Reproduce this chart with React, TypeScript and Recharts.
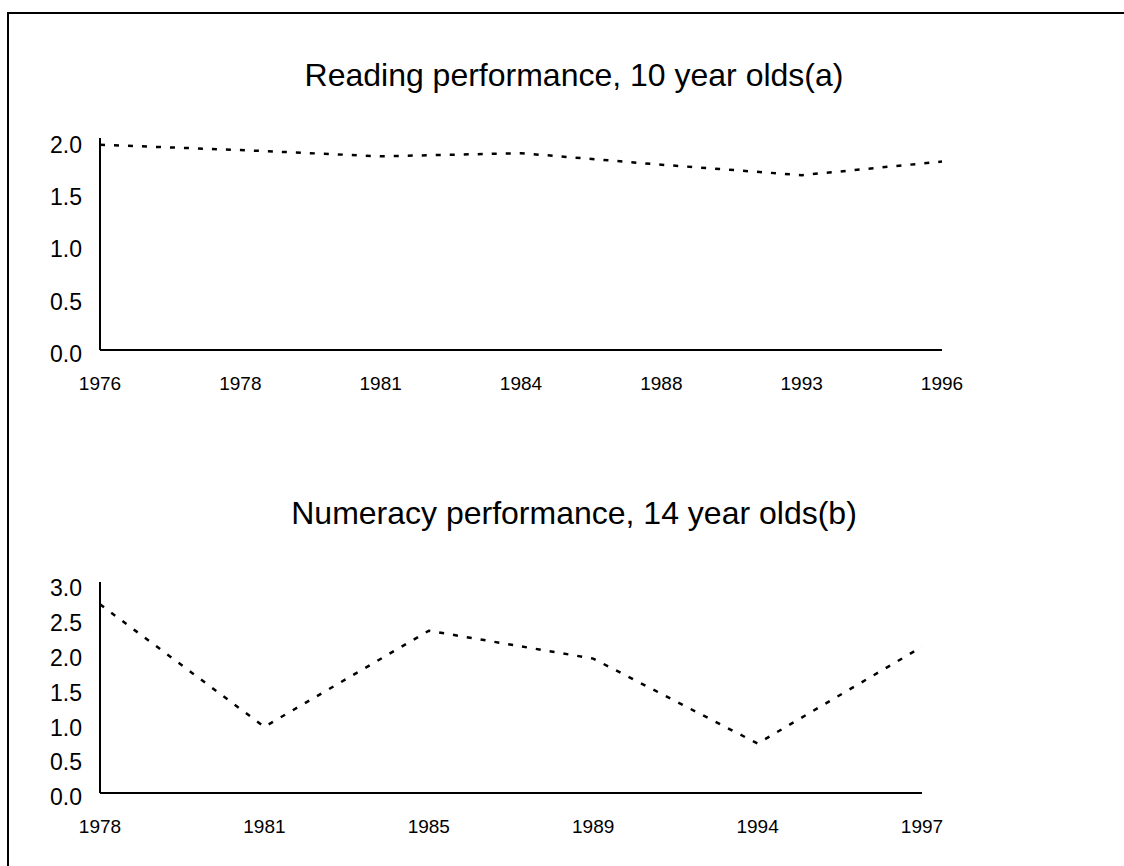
import { LineChart, Line, XAxis, YAxis } from "recharts";

const readingYears = ["1976", "1978", "1981", "1984", "1988", "1993", "1996"];
const readingValues = [1.96, 1.91, 1.85, 1.88, 1.77, 1.67, 1.8];
const readingTicks = [0, 0.5, 1, 1.5, 2];

const numeracyYears = ["1978", "1981", "1985", "1989", "1994", "1997"];
const numeracyValues = [2.71, 0.95, 2.33, 1.93, 0.71, 2.1];
const numeracyTicks = [0, 0.5, 1, 1.5, 2, 2.5, 3];

const font = '"Liberation Sans", Arial, sans-serif';

const readingData = readingYears.map((year, i) => ({ year, value: readingValues[i] }));
const numeracyData = numeracyYears.map((year, i) => ({ year, value: numeracyValues[i] }));

const titleStyle = {
  position: "absolute" as const,
  left: 0,
  width: 1148,
  textAlign: "center" as const,
  fontFamily: font,
  fontSize: 32,
  lineHeight: "32px",
  color: "#000",
  whiteSpace: "nowrap" as const,
};

function Panel({
  data,
  ticks,
  max,
  top,
  height,
  margin,
}: {
  data: { year: string; value: number }[];
  ticks: number[];
  max: number;
  top: number;
  height: number;
  margin: { top: number; right: number; bottom: number; left: number };
}) {
  return (
    <div style={{ position: "absolute", left: 0, top }}>
      <LineChart width={1124} height={height} data={data} margin={margin}>
        <XAxis
          dataKey="year"
          padding={{ left: 0, right: 0 }}
          axisLine={{ stroke: "#000", strokeWidth: 2 }}
          tickLine={false}
          tickSize={0}
          tickMargin={27}
          height={30}
          interval={0}
          tick={{ fill: "#000", fontSize: 19, fontFamily: font }}
        />
        <YAxis
          type="number"
          domain={[0, max]}
          ticks={ticks}
          width={100}
          axisLine={{ stroke: "#000", strokeWidth: 2 }}
          tickLine={false}
          tickSize={0}
          tickMargin={18}
          tickFormatter={(v: number) => v.toFixed(1)}
          tick={{ fill: "#000", fontSize: 23, fontFamily: font, dy: 4 }}
        />
        <Line
          type="linear"
          dataKey="value"
          stroke="#000"
          strokeWidth={2.5}
          strokeDasharray="5 9"
          dot={false}
          activeDot={false}
          isAnimationActive={false}
        />
      </LineChart>
    </div>
  );
}

export default function App() {
  return (
    <div style={{ position: "absolute", left: 0, top: 0, width: 1124, height: 866, overflow: "hidden" }}>
      <div
        style={{
          position: "absolute",
          left: 7,
          top: 12,
          width: 1140,
          height: 900,
          borderTop: "2px solid #000",
          borderLeft: "2px solid #000",
        }}
      />
      <div style={{ ...titleStyle, top: 59 }}>Reading performance, 10 year olds(a)</div>
      <Panel
        data={readingData}
        ticks={readingTicks}
        max={2.025}
        top={0}
        height={400}
        margin={{ top: 138, right: 182, bottom: 20, left: 0 }}
      />
      <div style={{ ...titleStyle, top: 497 }}>Numeracy performance, 14 year olds(b)</div>
      <Panel
        data={numeracyData}
        ticks={numeracyTicks}
        max={3.03}
        top={440}
        height={420}
        margin={{ top: 142, right: 202, bottom: 37, left: 0 }}
      />
    </div>
  );
}
